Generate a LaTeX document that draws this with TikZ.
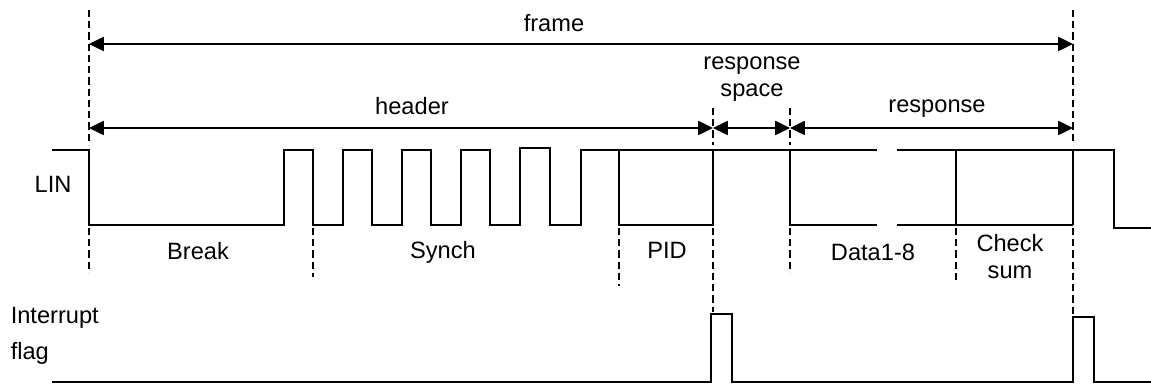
\documentclass[tikz,border=0pt]{standalone}
\usepackage{fontspec}
\setmainfont{Liberation Sans}
\usetikzlibrary{arrows.meta}

\begin{document}
\begin{tikzpicture}[x=0.025cm, y=-0.025cm, line width=1.1pt,
        span/.style={{Triangle[length=10.5pt,width=10pt]}-{Triangle[length=10.5pt,width=10pt]}},
        divider/.style={dash pattern=on 5pt off 3pt},
        lbl/.style={anchor=base, inner sep=0pt, align=center, font=\fontsize{16.8}{19.2}\selectfont}]
    \useasboundingbox (0,0) rectangle (1151,385);

    \coordinate (fL) at (89,44);
    \coordinate (fR) at (1073,44);
    \coordinate (hL) at (89,128);
    \coordinate (hR) at (713,128);
    \coordinate (sR) at (790,128);
    \coordinate (rR) at (1073,128);

    \draw[divider] (89,10) -- (89,145) (89,228) -- (89,273);
    \draw[divider] (1073,10) -- (1073,145) (1073,228) -- (1073,315);
    \draw[divider] (713,108) -- (713,145) (713,228) -- (713,312);
    \draw[divider] (790,108) -- (790,145) (790,228) -- (790,273);
    \draw[divider] (313,228) -- (313,277);
    \draw[divider] (619,228) -- (619,286);
    \draw[divider] (956,228) -- (956,283);

    \draw[span] (fL) -- (fR);
    \draw[span] (hL) -- (hR);
    \draw[span] (hR) -- (sR);
    \draw[span] (sR) -- (rR);

    \node[lbl] (frame) at (554,32) {frame};
    \node[lbl] (header) at (412,115) {header};
    \node[lbl] (rspace) at (752,97) {response\\space};
    \node[lbl] (resp) at (937,113) {response};

    \draw (52,150) -- (89,150) -- (89,225) -- (284,225) -- (284,150) -- (313,150) -- (313,225)
        -- (343,225) -- (343,150) -- (372,150) -- (372,225) -- (402,225) -- (402,150) -- (431,150)
        -- (431,225) -- (461,225) -- (461,150) -- (490,150) -- (490,225) -- (520,225) -- (520,148)
        -- (550,148) -- (550,225) -- (581,225) -- (581,150) -- (877,150);
    \draw (897,150) -- (1114,150) -- (1114,228) -- (1151,228);
    \draw (619,150) -- (619,225) -- (713,225) -- (713,150);
    \draw (790,150) -- (790,225) -- (877,225);
    \draw (897,225) -- (1073,225);
    \draw (956,150) -- (956,225);
    \draw (1073,150) -- (1073,225);

    \node[lbl] (lin) at (53,193) {LIN};
    \node[lbl] (brk) at (198,260) {Break};
    \node[lbl] (syn) at (443,259) {Synch};
    \node[lbl] (pid) at (667,259) {PID};
    \node[lbl] (data) at (873,261) {Data1-8};
    \node[lbl] (chk) at (1010,279) {Check\\sum};

    \node[lbl, anchor=base west, align=left, font=\fontsize{16.8}{26.3}\selectfont] (irq) at (10,360) {Interrupt\\flag};
    \draw (52,382) -- (711,382) -- (711,314) -- (732,314) -- (732,382) -- (1073,382) -- (1073,317)
        -- (1094,317) -- (1094,382) -- (1151,382);
\end{tikzpicture}
\end{document}
